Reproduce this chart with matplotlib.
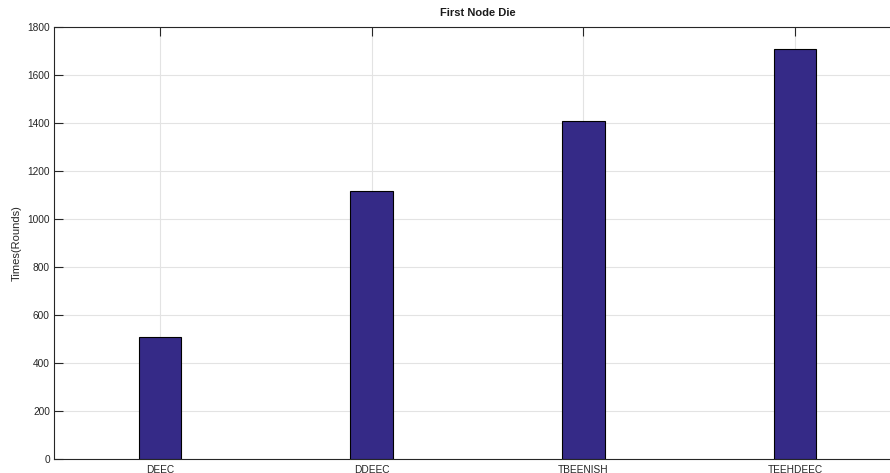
import matplotlib
matplotlib.use("Agg")
import matplotlib.pyplot as plt

protocols = ["DEEC", "DDEEC", "TBEENISH", "TEEHDEEC"]
first_node_die = [508, 1117, 1407, 1707]
y_ticks = [0, 200, 400, 600, 800, 1000, 1200, 1400, 1600, 1800]

plt.rcParams["font.family"] = ["Liberation Sans", "DejaVu Sans"]

fig = plt.figure(figsize=(8.9, 4.73), dpi=100)
ax = fig.add_axes([0.0607, 0.0296, 0.9517, 0.9133])

positions = list(range(1, len(protocols) + 1))
ax.bar(positions, first_node_die, width=0.2, color="#352a87",
       edgecolor="black", linewidth=0.8, zorder=3)

ax.set_xlim(0.5, 4.5)
ax.set_ylim(0, 1800)
ax.set_xticks(positions)
ax.set_xticklabels(protocols)
ax.set_yticks(y_ticks)

ax.grid(True, color="#e3e3e3", linewidth=0.8, zorder=0)
ax.set_axisbelow(True)

ax.tick_params(axis="both", direction="in", length=6.5, width=0.8,
               labelsize=7.3, colors="#262626", top=True, right=True,
               pad=3)
ax.tick_params(axis="x", pad=4)
for spine in ax.spines.values():
    spine.set_color("#262626")
    spine.set_linewidth(0.8)

ax.set_ylabel("Times(Rounds)", fontsize=8, color="#262626", labelpad=4)
ax.set_title("First Node Die", fontsize=8, fontweight="bold",
             color="#1a1a1a", pad=8)

fig.savefig("out.png", dpi=100)
